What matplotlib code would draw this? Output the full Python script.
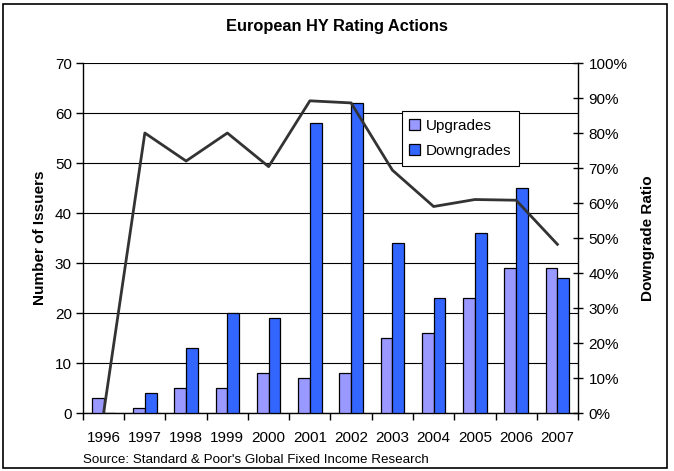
import numpy as np
import matplotlib
matplotlib.use("Agg")
import matplotlib.pyplot as plt
from matplotlib.patches import Rectangle
from matplotlib.ticker import FuncFormatter

plt.rcParams['font.family'] = ['Liberation Sans', 'DejaVu Sans']

years = ['1996', '1997', '1998', '1999', '2000', '2001', '2002',
         '2003', '2004', '2005', '2006', '2007']
upgrades = [3, 1, 5, 5, 8, 7, 8, 15, 16, 23, 29, 29]
downgrades = [0, 4, 13, 20, 19, 58, 62, 34, 23, 36, 45, 27]
ratio = [0, 80, 72, 80, 70.4, 89.2, 88.6, 69.4, 59, 61, 60.8, 48.2]

fig = plt.figure(figsize=(6.74, 4.71), dpi=100)
fig.patches.append(Rectangle((0.005, 0.006), 0.985, 0.986, transform=fig.transFigure,
                             fill=False, edgecolor='black', linewidth=1.2))

ax = fig.add_axes([0.1231, 0.1231, 0.7345, 0.7431])
x = np.arange(len(years))
w = 0.283
ax.bar(x - w/2, upgrades, w, color='#9999FF', edgecolor='black', linewidth=0.9,
       label='Upgrades', zorder=3)
ax.bar(x + w/2, downgrades, w, color='#3366FF', edgecolor='black', linewidth=0.9,
       label='Downgrades', zorder=3)

ax.set_xlim(-0.5, len(years) - 0.5)
ax.set_ylim(0, 70)
ax.set_yticks(range(0, 71, 10))
ax.yaxis.grid(True, color='black', linewidth=0.8, zorder=0)
ax.set_xticks(x)
ax.set_xticklabels(years)
ax.set_xticks(np.arange(-0.5, len(years), 1), minor=True)
ax.tick_params(axis='x', which='major', length=0, pad=13, labelsize=11)
ax.tick_params(axis='x', which='minor', length=5, width=1, direction='out')
ax.tick_params(axis='y', length=5, width=1, direction='out', labelsize=11, pad=3)
ax.spines['top'].set_visible(False)
ax.spines['right'].set_visible(False)
for s in ['left', 'bottom']:
    ax.spines[s].set_linewidth(1)
ax.set_ylabel('Number of Issuers', fontsize=11, fontweight='bold', labelpad=6)

ax2 = ax.twinx()
ax2.plot(x, ratio, color='#333333', linewidth=2, zorder=4)
ax2.set_ylim(0, 100)
ax2.set_yticks(range(0, 101, 10))
ax2.yaxis.set_major_formatter(FuncFormatter(lambda v, p: '%d%%' % v))
ax2.tick_params(axis='y', length=7, width=1, direction='inout', labelsize=11, pad=4)
for s in ['top', 'left', 'bottom']:
    ax2.spines[s].set_visible(False)
ax2.spines['right'].set_linewidth(1)
ax2.set_ylabel('Downgrade Ratio', fontsize=11, fontweight='bold', labelpad=10)

leg = ax2.legend(*ax.get_legend_handles_labels(), loc='upper left',
                 bbox_to_anchor=(0.644, 0.863), fontsize=11, frameon=True,
                 fancybox=False, edgecolor='black', framealpha=1,
                 handlelength=0.7, handleheight=0.7, handletextpad=0.4,
                 borderpad=0.5, labelspacing=0.75, borderaxespad=0)
leg.get_frame().set_linewidth(0.8)

fig.text(0.5, 0.943, 'European HY Rating Actions', ha='center', va='center',
         fontsize=11.8, fontweight='bold')
fig.text(0.123, 0.023, "Source: Standard & Poor's Global Fixed Income Research",
         ha='left', va='center', fontsize=9.6)

fig.savefig('out.png', dpi=100)
